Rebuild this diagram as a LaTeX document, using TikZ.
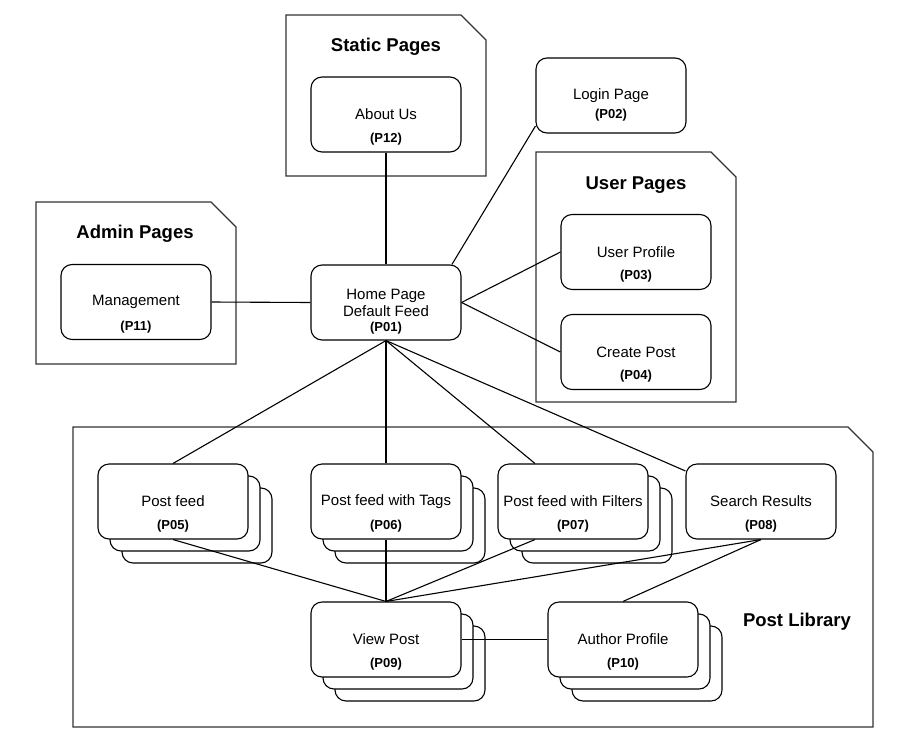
\documentclass[tikz,border=0pt]{standalone}
\usepackage{fontspec}
\setmainfont{Liberation Sans}
\usetikzlibrary{shadows}
\tikzstyle{page} = [draw=black, fill=white, line width=1.1pt, rounded corners=11pt,
    rectangle, minimum width=150pt, minimum height=75pt, inner sep=0pt,
    align=center, font=\fontsize{15}{17}\selectfont]
\tikzstyle{pagestack} = [page, double copy shadow={shadow xshift=12pt, shadow yshift=-12pt}]
\tikzstyle{pid} = [font=\bfseries\fontsize{13}{15}\selectfont, inner sep=0pt]
\tikzstyle{group} = [draw=black!80, fill=white, line width=1.1pt]
\tikzstyle{grouptitle} = [font=\bfseries\fontsize{18.5}{21}\selectfont, inner sep=0pt]
\tikzstyle{link} = [draw=black, line width=1.1pt]

\begin{document}
\begin{tikzpicture}[x=1pt, y=-1pt]
    \useasboundingbox (0,0) rectangle (901,736);
    % containers with a cut corner
    \draw[group] (286,15) -- (461,15) -- (486,40) -- (486,176) -- (286,176) -- cycle;
    \node[grouptitle] (static) at (386,47) {Static Pages};
    \draw[group] (536,152) -- (711,152) -- (736,177) -- (736,402) -- (536,402) -- cycle;
    \node[grouptitle] (user) at (636,185) {User Pages};
    \draw[group] (36,202) -- (211,202) -- (236,227) -- (236,364) -- (36,364) -- cycle;
    \node[grouptitle] (admin) at (135,234) {Admin Pages};
    \draw[group] (73,427) -- (848,427) -- (873,452) -- (873,727) -- (73,727) -- cycle;
    \node[grouptitle] (library) at (797,622) {Post Library};

    % pages
    \node[page, label={[pid, yshift=-26pt]center:(P01)}] (home) at (386,302.5) {Home Page\\Default Feed};
    \node[page, label={[pid, yshift=-19.5pt]center:(P02)}] (login) at (611,95.5) {Login Page};
    \node[page, label={[pid, yshift=-24.5pt]center:(P12)}] (about) at (386,114.5) {About Us};
    \node[page, label={[pid, yshift=-24.5pt]center:(P03)}] (profile) at (636,252) {User Profile};
    \node[page, label={[pid, yshift=-24.5pt]center:(P04)}] (create) at (636,352) {Create Post};
    \node[page, label={[pid, yshift=-25pt]center:(P11)}] (manage) at (136,302) {Management};
    \node[pagestack, label={[pid, yshift=-24.5pt]center:(P05)}] (feed) at (173,501.5) {Post feed};
    \node[pagestack, label={[pid, yshift=-24.5pt]center:(P06)}] (tags) at (386,501.5) {Post feed with Tags};
    \node[pagestack, label={[pid, yshift=-24.5pt]center:(P07)}] (filters) at (573,501.5) {Post feed with Filters};
    \node[page, label={[pid, yshift=-24.5pt]center:(P08)}] (search) at (761,501.5) {Search Results};
    \node[pagestack, label={[pid, yshift=-24.5pt]center:(P09)}] (view) at (386,639.5) {View Post};
    \node[pagestack, label={[pid, yshift=-24.5pt]center:(P10)}] (author) at (623,639.5) {Author Profile};

    % links
    \draw[link] (about.south) -- (home.north);
    \draw[link] (home.30) -- (login.202.7);
    \draw[link] (home.east) -- (profile.west);
    \draw[link] (home.east) -- (create.west);
    \draw[link] (manage.east) -- (home.west);
    \draw[link] (home.south) -- (feed.north);
    \draw[link] (home.south) -- (tags.north);
    \draw[link] (home.south) -- (filters.135);
    \draw[link] (home.south) -- (search.158);
    \draw[link] (feed.south) -- (view.north);
    \draw[link] (tags.south) -- (view.north);
    \draw[link] (filters.-135) -- (view.north);
    \draw[link] (search.south) -- (view.north);
    \draw[link] (search.south) -- (author.north);
    \draw[link] (view.east) -- (author.west);
\end{tikzpicture}
\end{document}
